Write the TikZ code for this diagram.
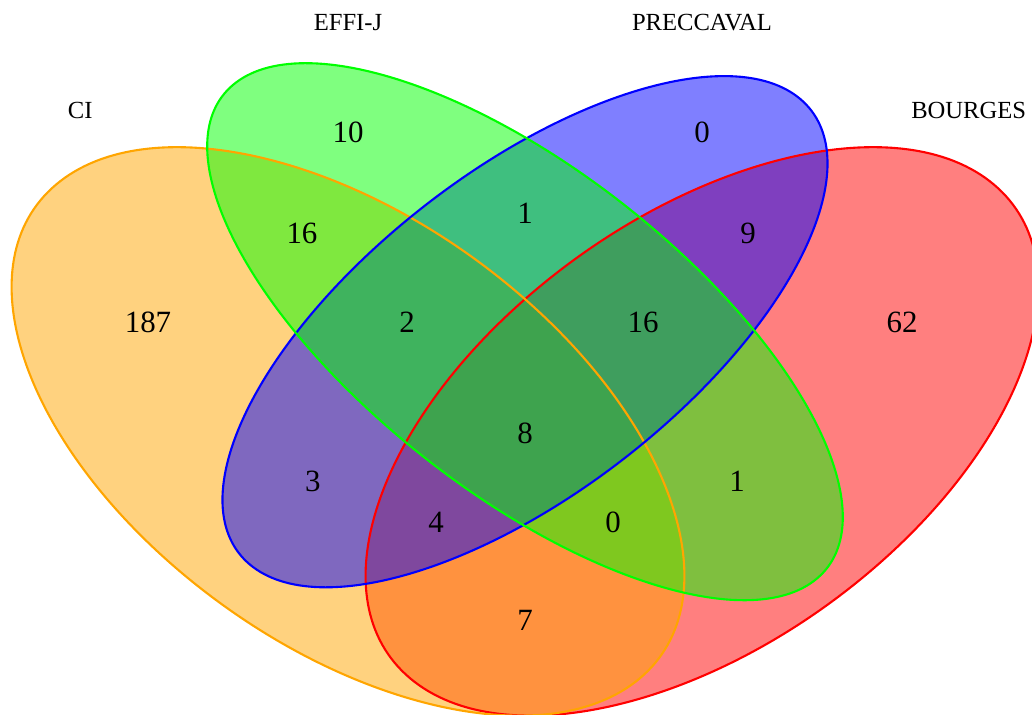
\documentclass[tikz,border=0pt]{standalone}
\usepackage{fontspec}
\setmainfont{Liberation Serif}
\usepackage{tikz}
\usepackage{xcolor}
\usetikzlibrary{positioning}

\definecolor{vorange}{RGB}{255,165,0}
\definecolor{vgreen}{RGB}{0,255,0}
\definecolor{vblue}{RGB}{0,0,255}
\definecolor{vred}{RGB}{255,0,0}

% one set of the diagram: centre x, centre y, half axes a and b, rotation, style
\newcommand{\vennset}[6]{%
  \path[#6, shift={(#1,#2)}, rotate=#5] (0,0) ellipse [x radius=#3, y radius=#4];
}

\begin{document}
\begin{tikzpicture}[
    count/.style={font=\fontsize{8.8}{10}\selectfont},
    setname/.style={font=\fontsize{7}{8}\selectfont},
    vfill/.style={fill=#1, fill opacity=0.5},
    vline/.style={draw=#1, line width=0.6pt}]
    \useasboundingbox (0.65,1.85) rectangle (10.97,9.00);
    \begin{scope}[xscale=11.8, yscale=9.97]
        % fills
        \vennset{0.65}{0.47}{0.35}{0.20}{45}{vfill=vred}
        \vennset{0.35}{0.47}{0.35}{0.20}{135}{vfill=vorange}
        \vennset{0.50}{0.57}{0.33}{0.15}{45}{vfill=vblue}
        \vennset{0.50}{0.57}{0.35}{0.15}{135}{vfill=vgreen}
        % borders
        \vennset{0.65}{0.47}{0.35}{0.20}{45}{vline=vred}
        \vennset{0.35}{0.47}{0.35}{0.20}{135}{vline=vorange}
        \vennset{0.50}{0.57}{0.33}{0.15}{45}{vline=vblue}
        \vennset{0.50}{0.57}{0.35}{0.15}{135}{vline=vgreen}

        \node[setname] (ci) at (0.123,0.792) {CI};
        \node[setname] (effij) at (0.35,0.88) {EFFI-J};
        \node[setname] (preccaval) at (0.65,0.88) {PRECCAVAL};
        \node[setname] (bourges) at (0.876,0.792) {BOURGES};

        \node[count] (nE) at (0.35,0.77) {10};
        \node[count] (nP) at (0.65,0.77) {0};
        \node[count] (nCE) at (0.311,0.669) {16};
        \node[count] (nEP) at (0.5,0.689) {1};
        \node[count] (nPB) at (0.689,0.669) {9};
        \node[count] (nC) at (0.1805,0.579) {187};
        \node[count] (nCEP) at (0.40,0.579) {2};
        \node[count] (nEPB) at (0.60,0.579) {16};
        \node[count] (nB) at (0.8195,0.579) {62};
        \node[count] (nCEPB) at (0.5,0.468) {8};
        \node[count] (nCP) at (0.3203,0.42) {3};
        \node[count] (nEB) at (0.6797,0.42) {1};
        \node[count] (nCPB) at (0.4246,0.379) {4};
        \node[count] (nCEB) at (0.5746,0.379) {0};
        \node[count] (nCB) at (0.5,0.28) {7};
    \end{scope}
\end{tikzpicture}
\end{document}
